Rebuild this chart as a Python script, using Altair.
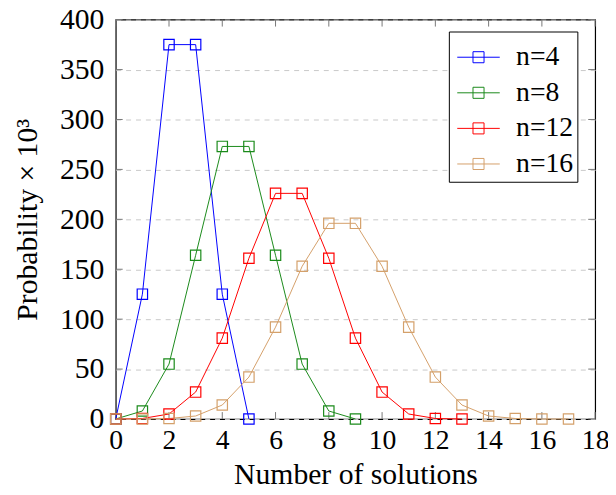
import altair as alt
import pandas as pd

series_names = ["n=4", "n=8", "n=12", "n=16"]
series_colors = ["#0000ff", "#1a8a1a", "#ff0000", "#d4a06a"]

x_n4 = [0, 1, 2, 3, 4, 5]
p_n4 = [0, 125, 375, 375, 125, 0]

x_n8 = [0, 1, 2, 3, 4, 5, 6, 7, 8, 9]
p_n8 = [0, 8, 55, 164, 273, 273, 164, 55, 8, 0]

x_n12 = [0, 1, 2, 3, 4, 5, 6, 7, 8, 9, 10, 11, 12, 13]
p_n12 = [0, 0.5, 5, 27, 81, 161, 226, 226, 161, 81, 27, 5, 0.5, 0]

x_n16 = [0, 1, 2, 3, 4, 5, 6, 7, 8, 9, 10, 11, 12, 13, 14, 15, 16, 17]
p_n16 = [0, 0, 0.5, 3, 14, 42, 92, 153, 196, 196, 153, 92, 42, 14, 3, 0.5, 0, 0]

x_ticks = [0, 2, 4, 6, 8, 10, 12, 14, 16, 18]
y_ticks = [0, 50, 100, 150, 200, 250, 300, 350, 400]

rows = []
for name, xs, ps in [("n=4", x_n4, p_n4), ("n=8", x_n8, p_n8),
                     ("n=12", x_n12, p_n12), ("n=16", x_n16, p_n16)]:
    for xv, pv in zip(xs, ps):
        rows.append({"k": xv, "p": pv, "series": name})
df = pd.DataFrame(rows)

W, H = 485, 404
FONT = "Liberation Serif"
FS = 30

xscale = alt.Scale(domain=[0, 18], nice=False)
yscale = alt.Scale(domain=[0, 400], nice=False)

legend_path = "M-1,0L1,0M-0.26,-0.26L0.26,-0.26L0.26,0.26L-0.26,0.26Z"

lines = alt.Chart(df).mark_line(
    strokeWidth=1,
    point=alt.OverlayMarkDef(shape="square", filled=False, size=110, strokeWidth=1.2),
).encode(
    x=alt.X("k:Q", scale=xscale,
            axis=alt.Axis(values=x_ticks, title="Number of solutions", grid=False,
                          ticks=False, tickSize=0, domain=False, labelFlush=False,
                          labelFontSize=28, labelPadding=8, titlePadding=5)),
    y=alt.Y("p:Q", scale=yscale,
            axis=alt.Axis(values=y_ticks, title="Probability × 10³", grid=True,
                          gridDash=[5, 5], gridColor="#c8c8c8", gridWidth=1,
                          ticks=False, tickSize=0, domain=False, labelFlush=False,
                          labelPadding=12, titlePadding=17)),
    color=alt.Color("series:N",
                    scale=alt.Scale(domain=series_names, range=series_colors),
                    sort=series_names,
                    legend=alt.Legend(title=None, orient="none",
                                      legendX=337, legendY=12,
                                      symbolType=legend_path, symbolSize=1849,
                                      symbolStrokeWidth=1, symbolOffset=4,
                                      labelFont=FONT, labelFontSize=28,
                                      labelColor="black",
                                      strokeColor="black", fillColor="white",
                                      padding=4, rowPadding=0, labelOffset=16,
                                      cornerRadius=0)),
    order=alt.Order("k:Q"),
)

tick_df_x = pd.DataFrame({"v": x_ticks})
tick_df_y = pd.DataFrame({"v": y_ticks})
tick_color = "#777777"

xb = alt.Chart(tick_df_x).mark_rule(color=tick_color, strokeWidth=1).encode(
    x=alt.X("v:Q", scale=xscale), y=alt.value(H), y2=alt.value(H - 7))
xt = alt.Chart(tick_df_x).mark_rule(color=tick_color, strokeWidth=1).encode(
    x=alt.X("v:Q", scale=xscale), y=alt.value(0), y2=alt.value(7))
yl = alt.Chart(tick_df_y).mark_rule(color=tick_color, strokeWidth=1).encode(
    y=alt.Y("v:Q", scale=yscale), x=alt.value(0), x2=alt.value(7))
yr = alt.Chart(tick_df_y).mark_rule(color=tick_color, strokeWidth=1).encode(
    y=alt.Y("v:Q", scale=yscale), x=alt.value(W), x2=alt.value(W - 7))

chart = alt.layer(xb, xt, yl, yr, lines).properties(
    width=W, height=H,
    autosize=alt.AutoSizeParams(type="none"),
    padding={"left": 109, "top": 9, "right": 13, "bottom": 66},
).configure_view(
    stroke="black", strokeWidth=1.2
).configure_axis(
    labelFont=FONT, labelFontSize=FS, labelColor="black",
    titleFont=FONT, titleFontSize=FS, titleFontWeight="normal", titleColor="black",
)

chart.save("out.html", embed_options={"renderer": "svg", "actions": False})
